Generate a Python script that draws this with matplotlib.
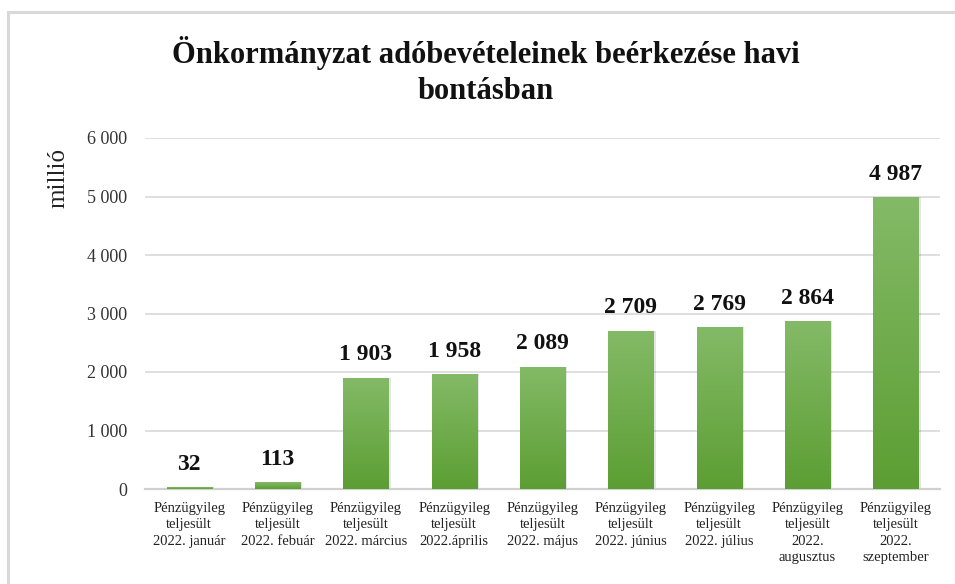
import matplotlib
matplotlib.use("Agg")
import matplotlib.pyplot as plt
import numpy as np
from matplotlib.lines import Line2D
from matplotlib.colors import LinearSegmentedColormap

categories = [
    "Pénzügyileg\nteljesült\n2022. január",
    "Pénzügyileg\nteljesült\n2022. febuár",
    "Pénzügyileg\nteljesült\n2022. március",
    "Pénzügyileg\nteljesült\n2022.április",
    "Pénzügyileg\nteljesült\n2022. május",
    "Pénzügyileg\nteljesült\n2022. június",
    "Pénzügyileg\nteljesült\n2022. július",
    "Pénzügyileg\nteljesült\n2022.\naugusztus",
    "Pénzügyileg\nteljesült\n2022.\nszeptember",
]
values = [32, 113, 1903, 1958, 2089, 2709, 2769, 2864, 4987]
yticks = [0, 1000, 2000, 3000, 4000, 5000, 6000]
title = "Önkormányzat adóbevételeinek beérkezése havi\nbontásban"
ylabel = "millió"

def fmt(v):
    return f"{v:,}".replace(",", " ")

plt.rcParams['font.family'] = ['Liberation Serif', 'DejaVu Serif']

fig = plt.figure(figsize=(9.55, 5.84), dpi=100)
ax = fig.add_axes([145/955, 1-489/584, (940-145)/955, (489-138)/584])

x = np.arange(len(values))
bars = ax.bar(x, values, width=0.51, color="#6aab45", zorder=3)

cmap = LinearSegmentedColormap.from_list("g", ["#5c9e33", "#84ba67"])
grad = np.linspace(0, 1, 256).reshape(-1, 1)
for b in bars:
    bx, by = b.get_x(), b.get_y()
    bw, bh = b.get_width(), b.get_height()
    ax.bar(bx + bw/2 + 0.025, bh, width=bw, bottom=by, color="#000000",
           alpha=0.10, zorder=2, linewidth=0)
    im = ax.imshow(grad, extent=[bx, bx + bw, by, by + bh], origin="lower",
                   cmap=cmap, aspect="auto", zorder=3.5)
    im.set_clip_path(b)

for xi, v in zip(x, values):
    ax.annotate(fmt(v), (xi, v), xytext=(0, 9), textcoords="offset points",
                ha="center", va="bottom", fontsize=17, fontweight="bold",
                color="#111111")

ax.set_xlim(-0.5, len(values) - 0.5)
ax.set_ylim(0, 6000)
ax.set_yticks(yticks)
ax.set_yticklabels([fmt(t) for t in yticks], fontsize=13, color="#333333")
ax.set_xticks(x)
ax.set_xticklabels(categories, fontsize=10.5, color="#222222", linespacing=1.33)
ax.tick_params(axis="y", length=0, pad=13)
ax.tick_params(axis="x", length=0, pad=9.5)
ax.grid(axis="y", color="#d9d9d9", linewidth=1.2, zorder=0)
ax.set_axisbelow(True)
for s in ["top", "right", "left"]:
    ax.spines[s].set_visible(False)
ax.spines["bottom"].set_color("#d0d0d0")
ax.spines["bottom"].set_linewidth(1.6)

fig.text(58/955, 1-178/584, ylabel, rotation=90, ha="center", va="center",
         fontsize=18, color="#222222")
fig.text(486/955, 1-71/584, title, ha="center", va="center", fontsize=22,
         fontweight="bold", linespacing=1.35, color="#111111")

fig.add_artist(Line2D([8/955, 8/955], [0, 1-12/584], color="#d9d9d9", lw=2.2,
                      transform=fig.transFigure))
fig.add_artist(Line2D([8/955, 1], [1-12/584, 1-12/584], color="#d9d9d9", lw=2.2,
                      transform=fig.transFigure))

fig.savefig("out.png", dpi=100)
